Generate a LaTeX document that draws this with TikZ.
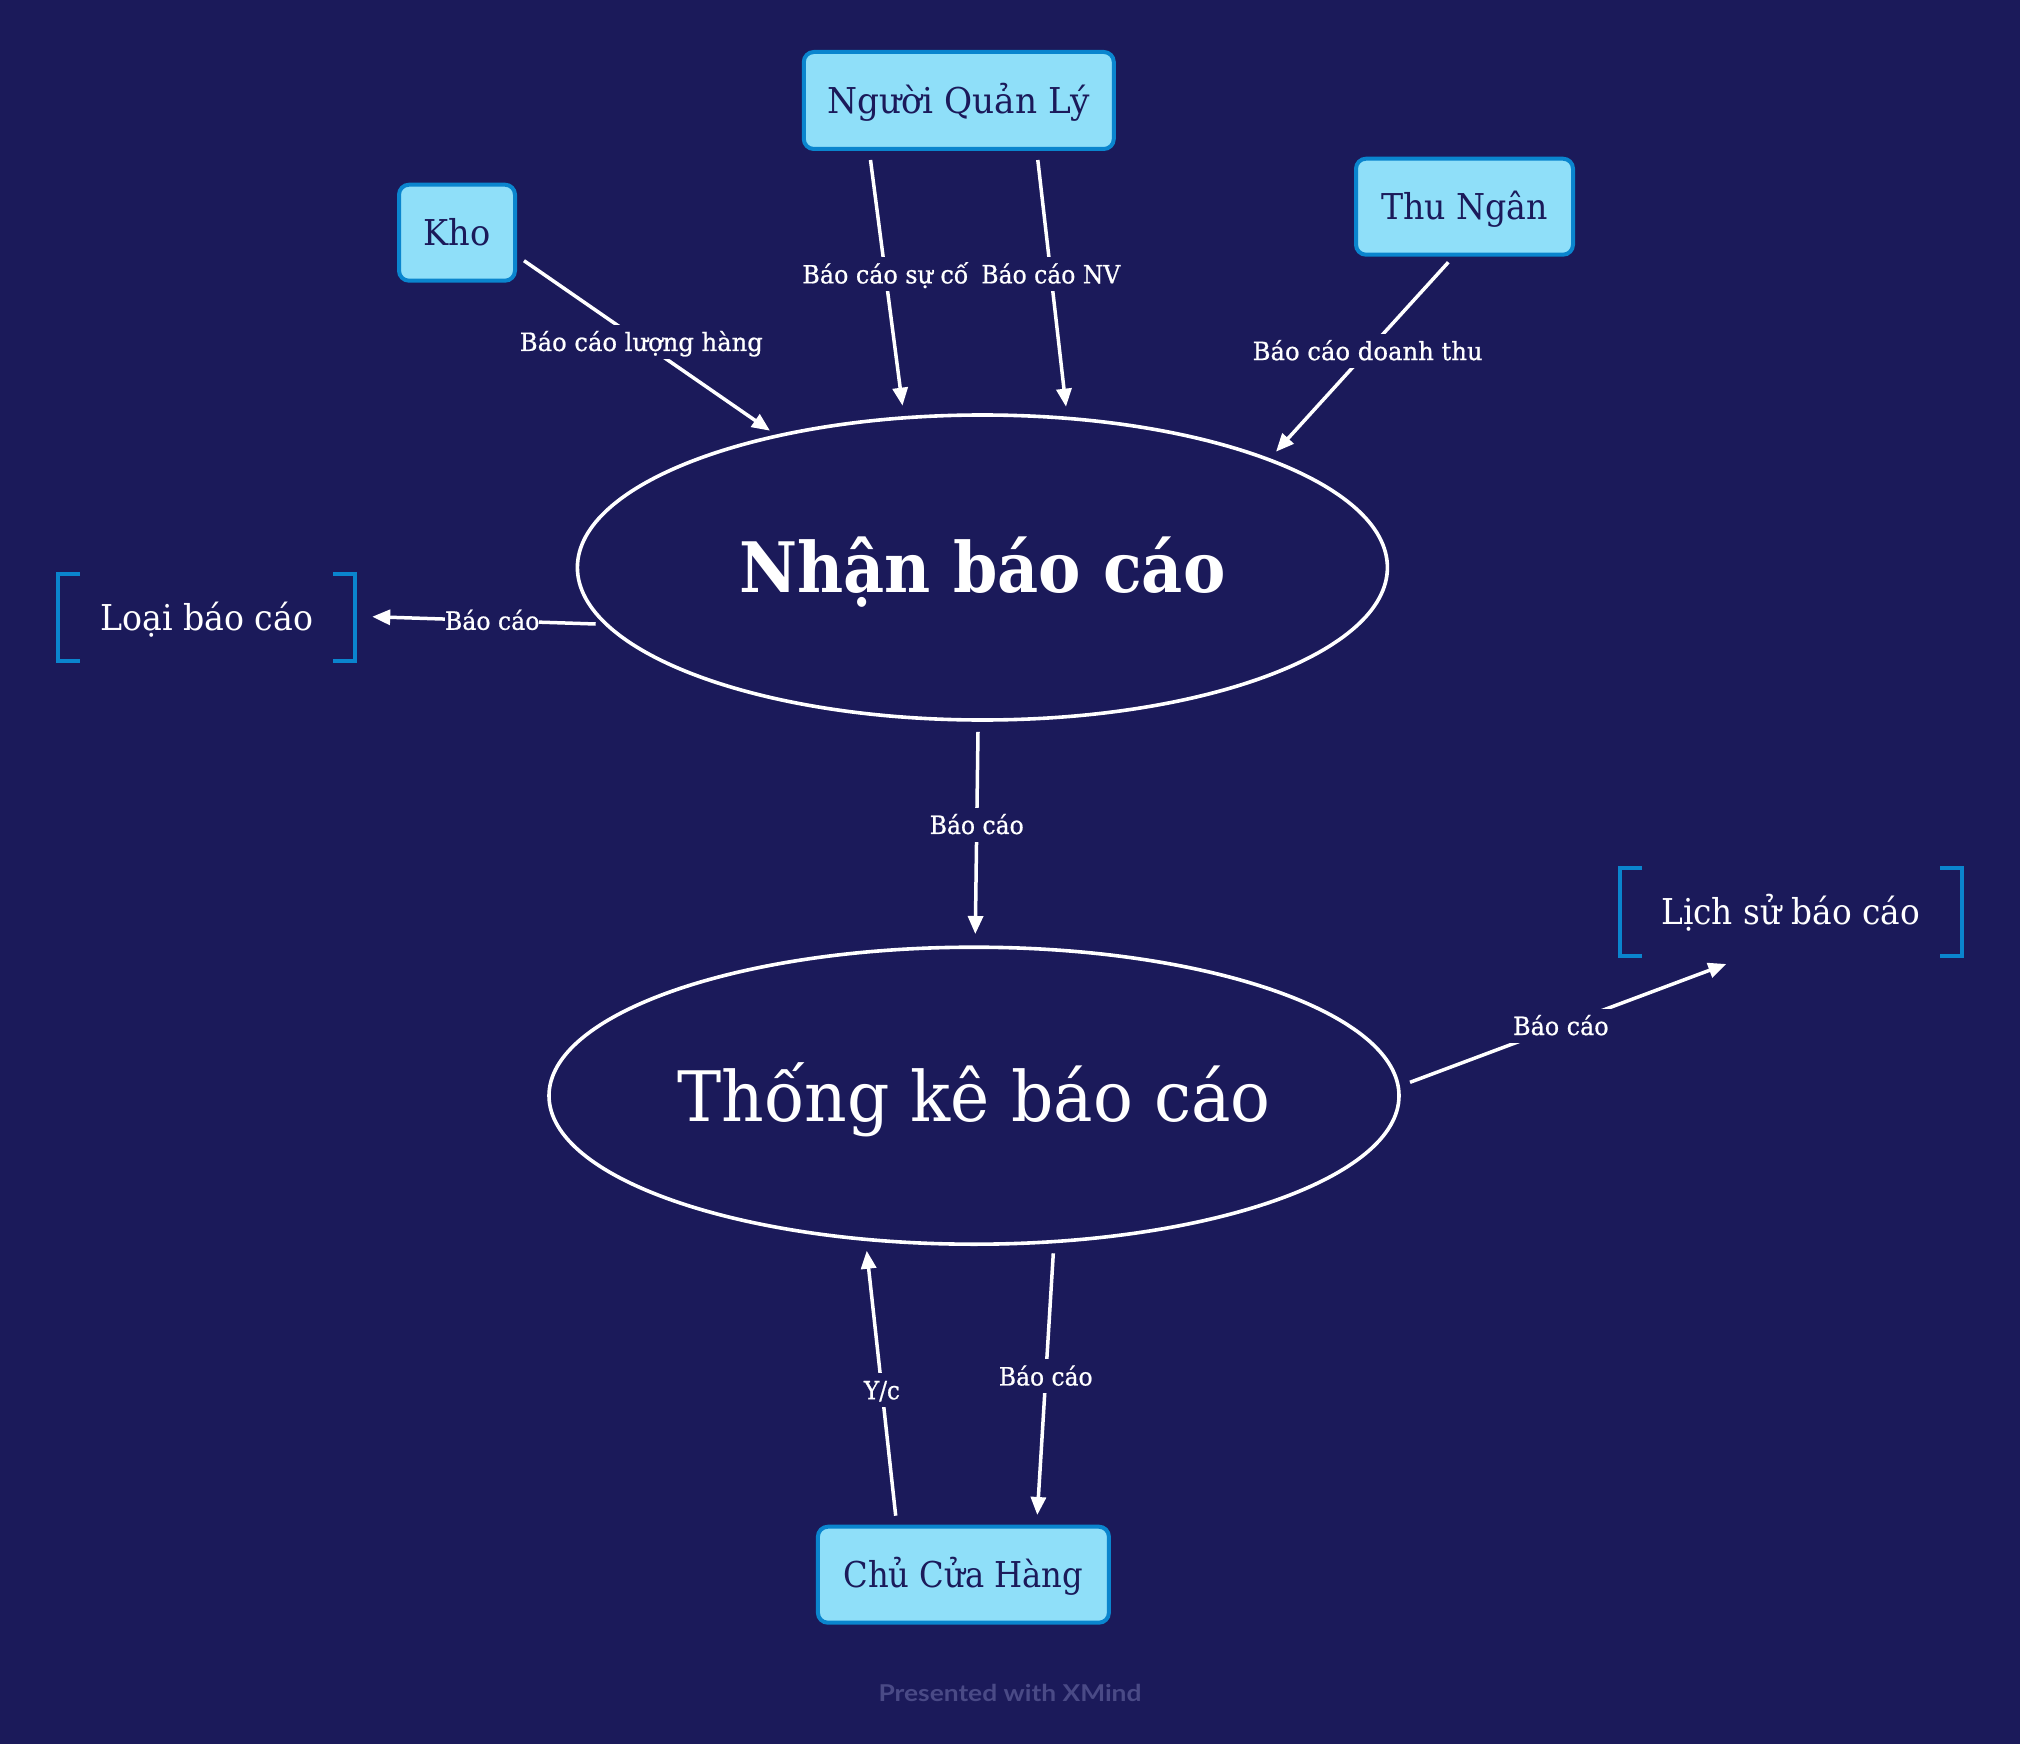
\documentclass[tikz,border=0pt]{standalone}
\usepackage{fontspec}
\setmainfont{DejaVu Serif}
\newfontfamily\lblfont{DejaVu Serif}[FakeBold=0.8]
\newfontfamily\wmfont{Lato}
\usetikzlibrary{shapes.geometric,arrows.meta}
\definecolor{bg}{HTML}{1B1A5A}
\definecolor{boxfill}{HTML}{8FDFF9}
\definecolor{boxline}{HTML}{0A85CE}
\definecolor{navy}{HTML}{1B1A5A}
\definecolor{wm}{HTML}{4A4A86}
\newcommand\fitw[2]{\resizebox{#1}{\height}{#2}}
\tikzset{
  box/.style={draw=boxline, fill=boxfill, line width=2pt, rounded corners=5pt,
    inner sep=0pt, text height=13pt, text depth=0pt, text=navy,
    font=\fontsize{17.8pt}{20pt}\selectfont},
  ellnode/.style={draw=white, line width=1.8pt, ellipse, inner sep=0pt,
    text=white, text height=25.35pt, text depth=0pt},
  brnode/.style={inner sep=0pt, text height=13pt, text depth=0pt, text=white,
    font=\fontsize{17.8pt}{20pt}\selectfont},
  brk/.style={draw=boxline, line width=2pt},
  lbl/.style={fill=bg, text=white, inner xsep=2pt, inner ysep=4pt,
    text height=9.15pt, text depth=0pt, font=\lblfont\fontsize{12.55pt}{14pt}\selectfont},
  arr/.style={draw=white, line width=1.75pt, -{Triangle[length=9pt,width=7.5pt]}}
}
\begin{document}
\begin{tikzpicture}[x=0.5pt,y=-0.5pt]
\fill[bg] (0,0) rectangle (2020,1744);
\useasboundingbox (0,0) rectangle (2020,1744);

% actor boxes
\node[box, minimum width=155pt, minimum height=48.5pt] (nql) at (958.8,100.5) {\fitw{131pt}{Người Quản Lý}};
\node[box, minimum width=58pt, minimum height=48pt] (kho) at (457,232.7) {\fitw{33.5pt}{Kho}};
\node[box, minimum width=108.5pt, minimum height=48pt] (thu) at (1464.5,206.7) {\fitw{83.5pt}{Thu Ngân}};
\node[box, minimum width=145.5pt, minimum height=48pt] (cch) at (963.4,1574.7) {\fitw{120pt}{Chủ Cửa Hàng}};

% processes
\node[ellnode, minimum width=405pt, minimum height=152.5pt,
  font=\fontsize{34.8pt}{40pt}\selectfont\bfseries] (e1) at (982.4,567.5) {\fitw{243pt}{Nhận báo cáo}};
\node[ellnode, minimum width=425pt, minimum height=148.5pt,
  font=\fontsize{34.8pt}{40pt}\selectfont] (e2) at (974,1095.7) {\fitw{296.5pt}{Thống kê báo cáo}};

% data stores
\node[brnode, minimum width=148.2pt, minimum height=43pt] (loai) at (206.7,617.7) {\fitw{106.5pt}{Loại báo cáo}};
\draw[brk] ([xshift=11pt]loai.north west) -- (loai.north west) -- (loai.south west) -- ([xshift=11pt]loai.south west);
\draw[brk] ([xshift=-11pt]loai.north east) -- (loai.north east) -- (loai.south east) -- ([xshift=-11pt]loai.south east);
\node[brnode, minimum width=170.8pt, minimum height=43.65pt] (lich) at (1790.8,911.7) {\fitw{129.5pt}{Lịch sử báo cáo}};
\draw[brk] ([xshift=11pt]lich.north west) -- (lich.north west) -- (lich.south west) -- ([xshift=11pt]lich.south west);
\draw[brk] ([xshift=-11pt]lich.north east) -- (lich.north east) -- (lich.south east) -- ([xshift=-11pt]lich.south east);

% flows
\draw[arr] ([shift={(67,28)}]kho.center) -- node[lbl,pos=0.477] (l1) {\fitw{121.5pt}{Báo cáo lượng hàng}} ([shift={(-212.4,-136.8)}]e1.center);
\draw[arr] ([shift={(-88.3,59.5)}]nql.center) -- node[lbl,pos=0.465] (l2) {\fitw{83pt}{Báo cáo sự cố}} ([shift={(-79.9,-161.8)}]e1.center);
\draw[arr] ([shift={(79,59.5)}]nql.center) -- node[lbl,pos=0.463] (l3) {\fitw{69.5pt}{Báo cáo NV}} ([shift={(83.6,-160.8)}]e1.center);
\draw[arr] ([shift={(-16.2,55.6)}]thu.center) -- node[lbl,pos=0.468] (l4) {\fitw{115pt}{Báo cáo doanh thu}} ([shift={(293.6,-115.8)}]e1.center);
\draw[arr] ([shift={(-386.7,56.5)}]e1.center) -- node[lbl,pos=0.463,inner xsep=0pt] (l5) {\fitw{47.25pt}{Báo cáo}} ([shift={(165.5,-1)}]loai.center);
\draw[arr] ([shift={(-4.4,164.3)}]e1.center) -- node[lbl,pos=0.46] (l6) {\fitw{47pt}{Báo cáo}} ([shift={(1.3,-161.7)}]e2.center);
\draw[arr] ([shift={(436,-13.4)}]e2.center) -- node[lbl,pos=0.477] (l7) {\fitw{47.75pt}{Báo cáo}} ([shift={(-64.5,52.3)}]lich.center);
\draw[arr] ([shift={(-67.7,-59)}]cch.center) -- node[lbl,pos=0.474] (l8) {\fitw{18pt}{Y/c}} ([shift={(-107.3,155)}]e2.center);
\draw[arr] ([shift={(79.3,157.6)}]e2.center) -- node[lbl,pos=0.47] (l9) {\fitw{46.85pt}{Báo cáo}} ([shift={(73.9,-59.7)}]cch.center);

% watermark
\node[text=wm, inner sep=0pt, anchor=base, font=\wmfont\fontsize{11.6pt}{13pt}\selectfont\bfseries] (wmk) at (1010,1701.7) {\fitw{131.5pt}{Presented with XMind}};
\end{tikzpicture}
\end{document}
